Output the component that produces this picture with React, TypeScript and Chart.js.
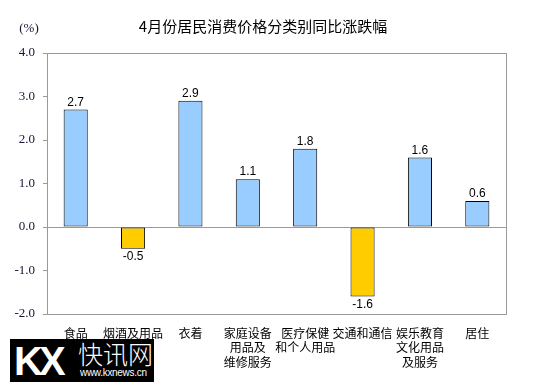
import React, { useEffect, useRef } from "react";
import { Chart, registerables } from "chart.js";

Chart.register(...registerables);

const title = "4月份居民消费价格分类别同比涨跌幅";
const unitLabel = "(%)";
const categories: string[][] = [
  ["食品"],
  ["烟酒及用品"],
  ["衣着"],
  ["家庭设备", "用品及", "维修服务"],
  ["医疗保健", "和个人用品"],
  ["交通和通信"],
  ["娱乐教育", "文化用品", "及服务"],
  ["居住"],
];
const values: number[] = [2.7, -0.5, 2.9, 1.1, 1.8, -1.6, 1.6, 0.6];
const yMin = -2;
const yMax = 4;
const yStep = 1;

const POS_COLOR = "#99CCFF";
const NEG_COLOR = "#FFCC00";

const overlayPlugin = {
  id: "overlay",
  afterDatasetsDraw(chart: any) {
    const { ctx, chartArea } = chart;
    ctx.save();
    // frame
    ctx.strokeStyle = "#9a9a9a";
    ctx.lineWidth = 1;
    ctx.strokeRect(
      Math.round(chartArea.left) + 0.5,
      Math.round(chartArea.top) + 0.5,
      Math.round(chartArea.right - chartArea.left),
      Math.round(chartArea.bottom - chartArea.top)
    );
    // title
    ctx.fillStyle = "#000";
    ctx.font = "15px 'Noto Sans CJK SC', sans-serif";
    ctx.textAlign = "center";
    ctx.textBaseline = "middle";
    ctx.fillText(title, 263, 26);
    ctx.font = "13px 'Liberation Serif', serif";
    ctx.fillStyle = "#141438";
    ctx.fillText(unitLabel, 29, 29);
    // data labels
    const meta = chart.getDatasetMeta(0);
    ctx.font = "12px 'Liberation Sans', Arial, sans-serif";
    ctx.fillStyle = "#000";
    meta.data.forEach((bar: any, i: number) => {
      const v = values[i];
      const label = v.toFixed(1);
      if (v >= 0) {
        ctx.textBaseline = "bottom";
        ctx.fillText(label, bar.x, bar.y - 1);
      } else {
        ctx.textBaseline = "top";
        ctx.fillText(label, bar.x, bar.y + 2);
      }
    });
    ctx.restore();
  },
};

export default function App() {
  const canvasRef = useRef<HTMLCanvasElement | null>(null);

  useEffect(() => {
    document.body.style.margin = "0";
    const canvas = canvasRef.current;
    if (!canvas) return;
    const chart = new Chart(canvas, {
      type: "bar",
      data: {
        labels: categories,
        datasets: [
          {
            data: values,
            backgroundColor: values.map((v) => (v >= 0 ? POS_COLOR : NEG_COLOR)),
            borderColor: "#000",
            borderWidth: 1,
            borderSkipped: false,
            barPercentage: 0.42,
            categoryPercentage: 1,
          },
        ],
      },
      options: {
        animation: false,
        responsive: false,
        maintainAspectRatio: false,
        layout: { padding: { top: 53, right: 37, left: 0, bottom: 0 } },
        plugins: {
          legend: { display: false },
          tooltip: { enabled: false },
          title: { display: false },
        },
        scales: {
          x: {
            grid: { display: false },
            border: { display: false },
            ticks: {
              color: "#000",
              font: { family: "'Noto Sans CJK SC', sans-serif", size: 12, lineHeight: 1.2 },
              padding: 4,
              maxRotation: 0,
              autoSkip: false,
            },
            afterFit(scale: any) {
              scale.height = 389 - 314;
            },
          },
          y: {
            min: yMin,
            max: yMax,
            grid: {
              drawOnChartArea: true,
              color: (c: any) => (c.tick && c.tick.value === 0 ? "#9a9a9a" : "rgba(0,0,0,0)"),
              tickColor: "#9a9a9a",
              tickLength: 4,
            },
            border: { display: false },
            ticks: {
              stepSize: yStep,
              color: "#141438",
              font: { family: "'Liberation Serif', serif", size: 13 },
              padding: 8,
              callback: (v: any) => Number(v).toFixed(1),
            },
            afterFit(scale: any) {
              scale.width = 47;
            },
          },
        },
      },
      plugins: [overlayPlugin],
    });
    return () => chart.destroy();
  }, []);

  return (
    <div style={{ position: "relative", width: 543, height: 389, background: "#fff" }}>
      <canvas ref={canvasRef} width={543} height={389} style={{ display: "block" }} />
      <div
        style={{
          position: "absolute",
          left: 10,
          top: 339,
          width: 144,
          height: 43,
          background: "#000",
          color: "#fff",
          overflow: "hidden",
        }}
      >
        <div
          style={{
            position: "absolute",
            left: 4,
            top: 1,
            fontFamily: "'Liberation Sans', Arial, sans-serif",
            fontWeight: 900,
            fontSize: 40,
            lineHeight: "42px",
            letterSpacing: -4,
          }}
        >
          KX
        </div>
        <div
          style={{
            position: "absolute",
            left: 68,
            top: -1,
            fontFamily: "'Noto Sans CJK SC', sans-serif",
            fontWeight: 300,
            fontSize: 25,
            lineHeight: "30px",
          }}
        >
          快讯网
        </div>
        <div
          style={{
            position: "absolute",
            left: 70,
            top: 28,
            fontFamily: "'Liberation Sans', Arial, sans-serif",
            fontSize: 10,
            lineHeight: "12px",
            letterSpacing: -0.3,
          }}
        >
          www.kxnews.cn
        </div>
      </div>
    </div>
  );
}
